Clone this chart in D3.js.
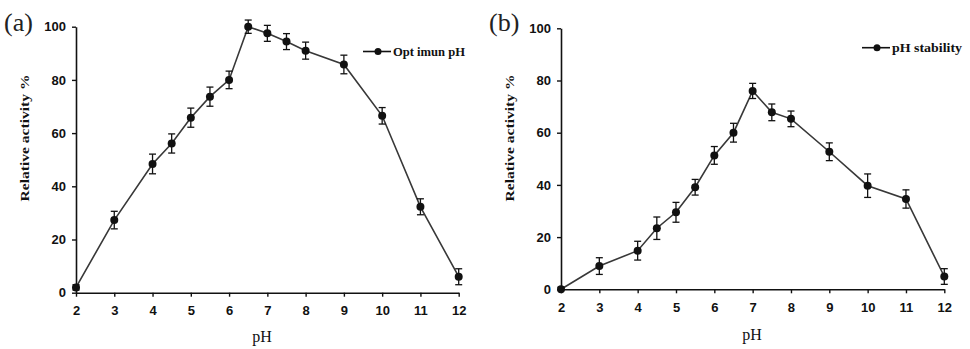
<!DOCTYPE html>
<html><head><meta charset="utf-8">
<script src="https://cdn.jsdelivr.net/npm/d3@7/dist/d3.min.js"></script>
<style>body{margin:0;background:#fff}svg{display:block}</style>
</head><body>
<svg id="c" width="970" height="349"></svg>
<script>
// Data
const phA = [2,3,4,4.5,5,5.5,6,6.5,7,7.5,8,9,10,11,12];
const optimumPH = [2,27.3,48.4,56.1,65.8,73.7,80,100,97.5,94.4,91,85.8,66.5,32.3,6];
const optimumErr = [1,3.3,3.7,3.6,3.6,3.6,3.3,2.5,3,3,3.2,3.5,3.1,3,3];
const phB = [2,3,4,4.5,5,5.5,6,6.5,7,7.5,8,9,10,11,12];
const stabilityPH = [0,8.9,14.8,23.4,29.5,39.1,51.3,60,76,67.8,65.3,52.7,39.7,34.6,4.9];
const stabilityErr = [0.8,3.2,3.6,4.3,3.8,3,3.4,3.6,2.9,3.2,3,3.4,4.5,3.5,3];
const xTicks = [2,3,4,5,6,7,8,9,10,11,12];
const yTicks = [0,20,40,60,80,100];

const svg = d3.select("#c");

function panel(o){
  const x = d3.scaleLinear().domain([2,12]).range([o.x0,o.x1]);
  const y = d3.scaleLinear().domain([0,100]).range([o.y0,o.y1]);
  const g = svg.append("g");
  const ax = g.append("g").attr("transform",`translate(0,${o.y0})`)
    .call(d3.axisBottom(x).tickValues(xTicks).tickSize(4).tickSizeOuter(0).tickPadding(9).tickFormat(d3.format("d")));
  const ay = g.append("g").attr("transform",`translate(${o.x0},0)`)
    .call(d3.axisLeft(y).tickValues(yTicks).tickSize(4).tickSizeOuter(0).tickPadding(6));
  [ax,ay].forEach(a=>{
    a.select(".domain").attr("stroke","#111").attr("stroke-width",1.6);
    a.selectAll(".tick line").attr("stroke","#111").attr("stroke-width",1.4);
    a.selectAll(".tick text").attr("fill","#111").style("font-family","'Liberation Sans',Arial,sans-serif")
      .style("font-weight","bold").style("font-size","13px");
  });
  const pts = o.xs.map((d,i)=>({x:d,y:o.ys[i],e:o.es[i]}));
  g.append("path").datum(pts).attr("fill","none").attr("stroke","#383838").attr("stroke-width",1.6)
    .attr("d",d3.line().x(d=>x(d.x)).y(d=>y(d.y)));
  const eb = g.append("g").attr("stroke","#111").attr("stroke-width",1.3);
  pts.forEach(d=>{
    const cx=x(d.x), t=y(d.y+d.e), b=y(Math.max(0,d.y-d.e));
    eb.append("line").attr("x1",cx).attr("x2",cx).attr("y1",t).attr("y2",b);
    eb.append("line").attr("x1",cx-3.5).attr("x2",cx+3.5).attr("y1",t).attr("y2",t);
    eb.append("line").attr("x1",cx-3.5).attr("x2",cx+3.5).attr("y1",b).attr("y2",b);
  });
  g.selectAll("circle.p").data(pts).enter().append("circle")
    .attr("cx",d=>x(d.x)).attr("cy",d=>y(d.y)).attr("r",4).attr("fill","#111");
  // panel letter
  g.append("text").attr("x",o.lx).attr("y",31).text(o.letter)
    .style("font-family","'Liberation Serif','Times New Roman',serif").style("font-size","26px").attr("fill","#222");
  // y label
  g.append("text").attr("transform",`translate(${o.ylx},${o.yly}) rotate(-90)`).attr("text-anchor","middle")
    .attr("textLength",127).attr("lengthAdjust","spacingAndGlyphs")
    .text("Relative activity %")
    .style("font-family","'Liberation Serif','Times New Roman',serif").style("font-weight","bold").style("font-size","13px").attr("fill","#111");
  // x label
  g.append("text").attr("x",o.xlx).attr("y",o.xly).attr("text-anchor","middle").text("pH")
    .style("font-family","'Liberation Serif','Times New Roman',serif").style("font-size","16px").attr("fill","#111");
  // legend
  const lg = g.append("g");
  lg.append("line").attr("x1",o.lgx).attr("x2",o.lgx+28).attr("y1",o.lgy).attr("y2",o.lgy).attr("stroke","#111").attr("stroke-width",1.6);
  lg.append("circle").attr("cx",o.lgx+15).attr("cy",o.lgy).attr("r",3.5).attr("fill","#111");
  lg.append("text").attr("x",o.lgx+30).attr("y",o.lgy+4.5).text(o.name)
    .attr("textLength",o.lgw).attr("lengthAdjust","spacingAndGlyphs")
    .style("font-family","'Liberation Serif','Times New Roman',serif").style("font-weight","bold").style("font-size","13px").attr("fill","#111");
}

panel({x0:76,x1:458.7,y0:292.7,y1:26.7,xs:phA,ys:optimumPH,es:optimumErr,letter:"(a)",lx:4,
  ylx:29,yly:138,xlx:262,xly:342,lgx:363,lgy:51.5,name:"Opt imun pH",lgw:72});
panel({x0:561,x1:944.3,y0:289.3,y1:28.3,xs:phB,ys:stabilityPH,es:stabilityErr,letter:"(b)",lx:489,
  ylx:514,yly:138,xlx:752,xly:340,lgx:862,lgy:47.7,name:"pH stability",lgw:70});
</script>
</body></html>
